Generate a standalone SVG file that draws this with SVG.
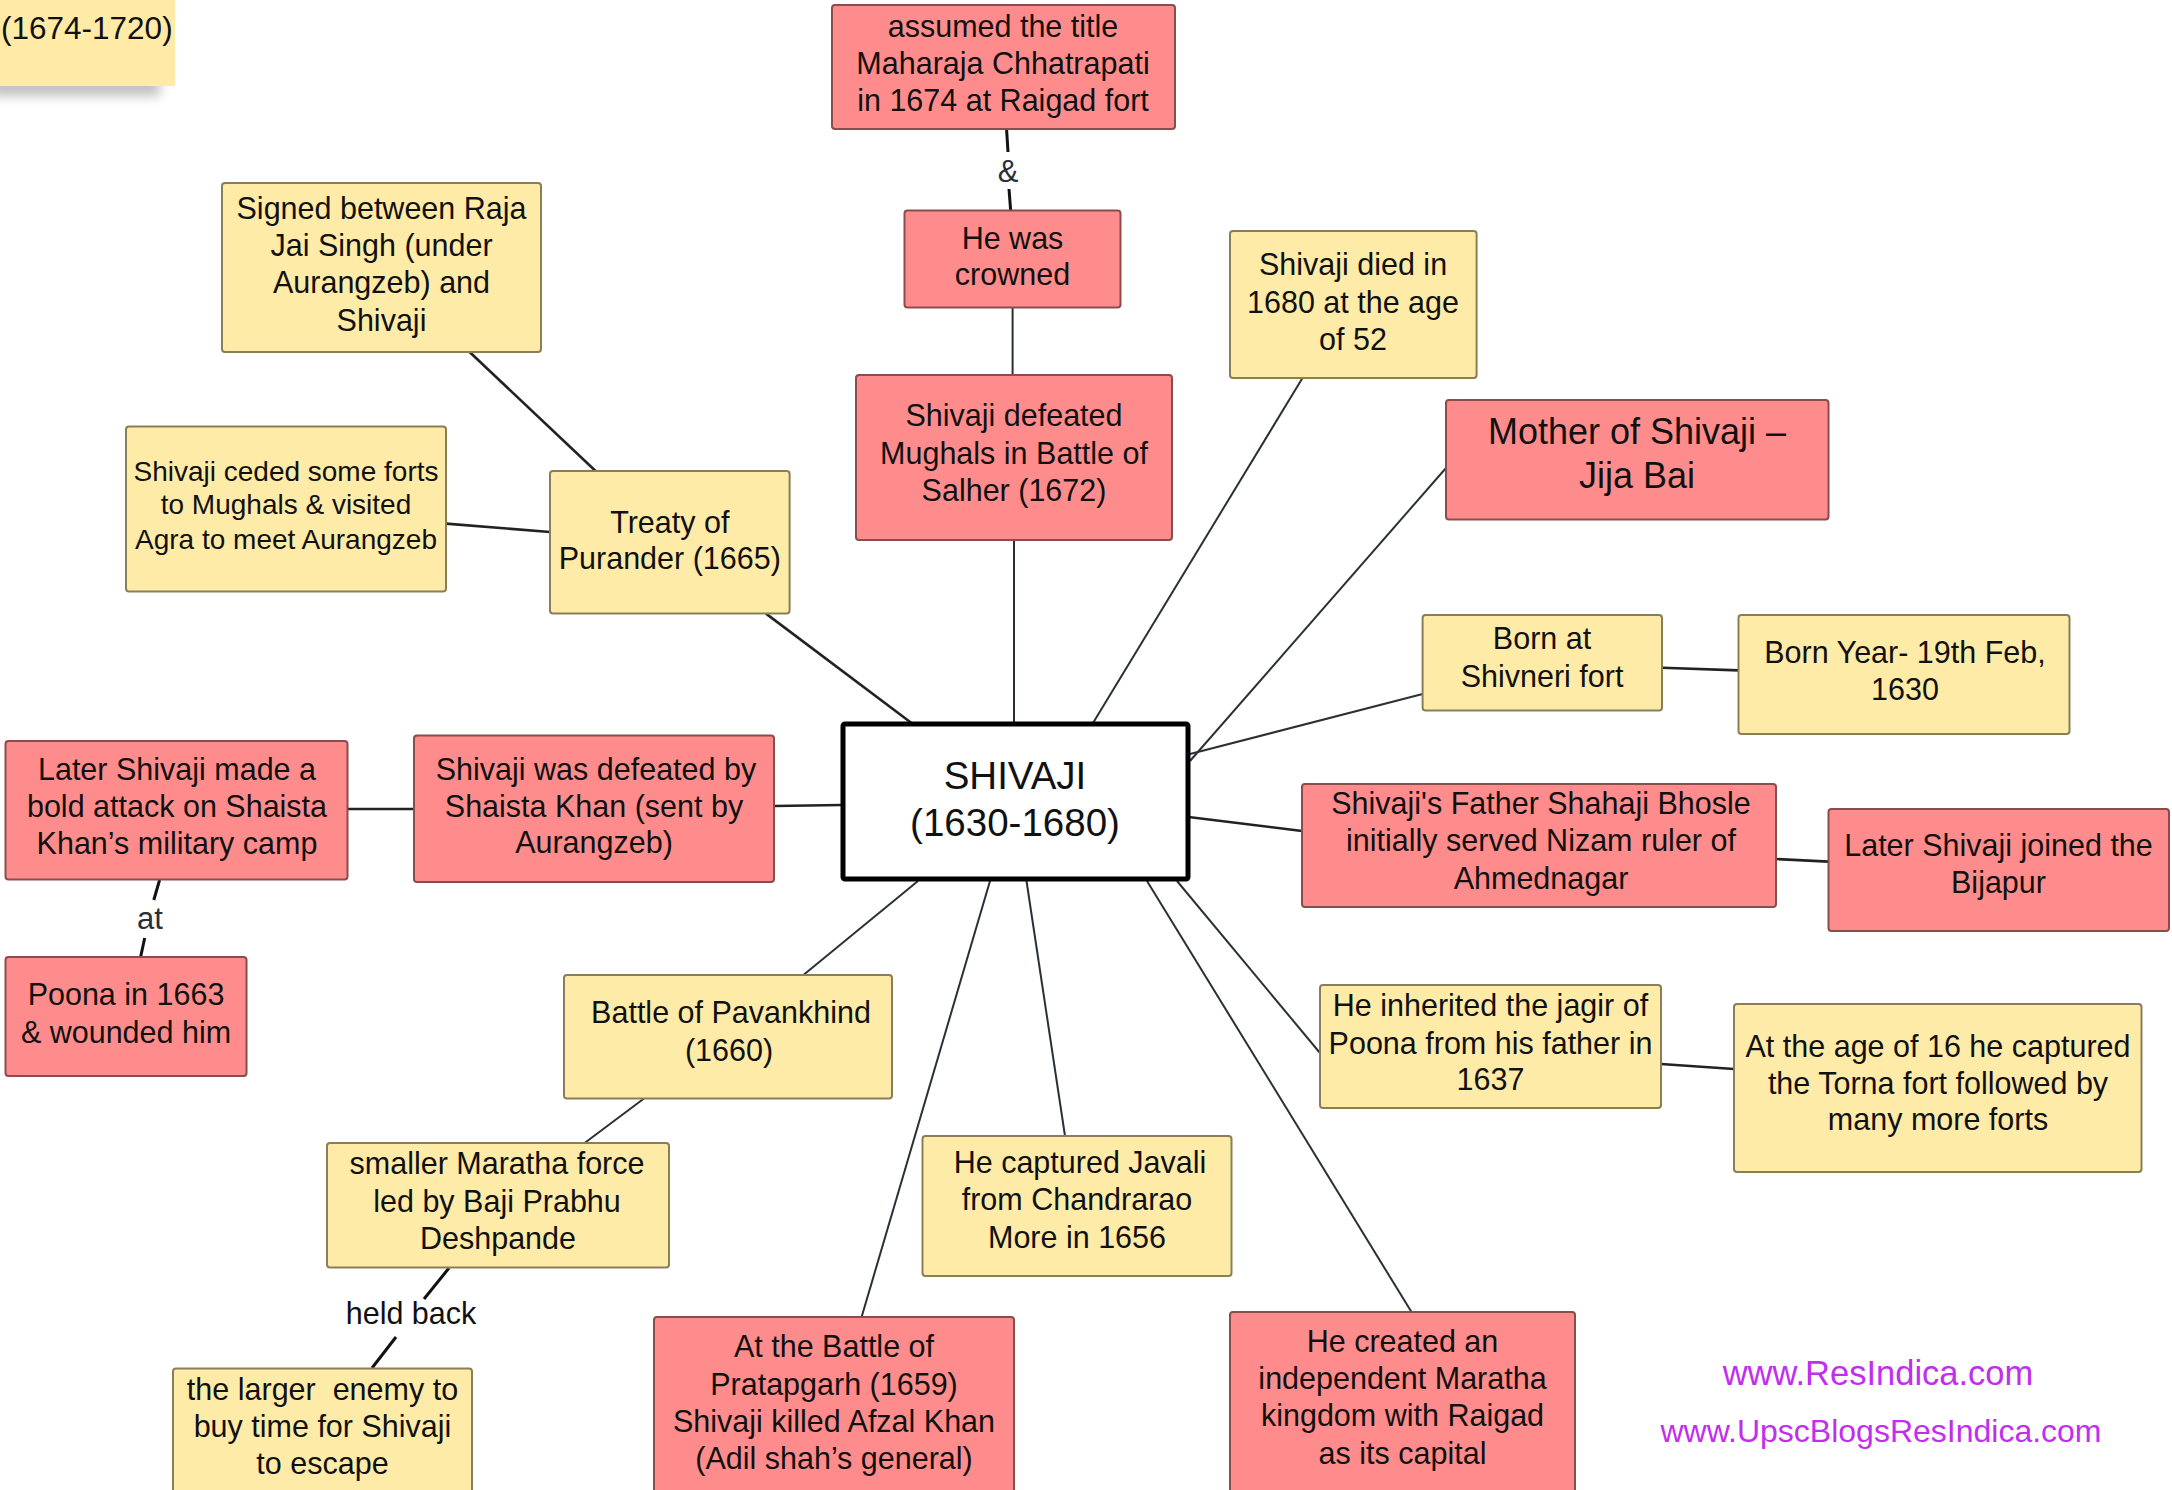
<svg xmlns="http://www.w3.org/2000/svg" width="2172" height="1490" viewBox="0 0 2172 1490">
<defs>
<style>
text{font-family:"Liberation Sans",Arial,sans-serif;fill:#111;text-anchor:middle}
.y{fill:#FFEBA8;stroke:#8A7E58;stroke-width:2}
.r{fill:#FF8C8C;stroke:#8A4C4C;stroke-width:2}
.t{font-size:30.5px}
.s{font-size:28px}
.l{stroke:#2b2f36;stroke-width:2;fill:none}
.lk{stroke:#222;stroke-width:2.6;fill:none}
.lb{stroke:#111;stroke-width:3;fill:none}
.lab{font-size:31px;fill:#2a2f3a}
.wm{fill:#C22EEF}
</style>
<filter id="sh" x="-20%" y="-50%" width="140%" height="200%"><feGaussianBlur stdDeviation="6"/></filter>
</defs>
<rect width="2172" height="1490" fill="#fff"/>

<g id="sticky">
<rect x="-10" y="78" width="170" height="18" fill="#000" opacity="0.25" filter="url(#sh)"/>
<rect x="-5" y="-5" width="180" height="91" fill="#FFEBA6"/>
<text x="1" y="39" style="font-size:31.5px;text-anchor:start">(1674-1720)</text>
</g>

<g id="connectors">
<line class="lb" x1="1006.6" y1="130" x2="1008" y2="152"/>
<line class="lb" x1="1009" y1="189" x2="1010.7" y2="211"/>
<line class="l" x1="1012.6" y1="307.5" x2="1012.6" y2="375.4"/>
<line class="l" x1="1014" y1="540" x2="1014" y2="723"/>
<line class="l" x1="1302.5" y1="378" x2="1093" y2="723"/>
<line class="l" x1="1446" y1="468" x2="1190" y2="761"/>
<line class="l" x1="1422.6" y1="694" x2="1190" y2="754"/>
<line class="lk" x1="1662" y1="667.7" x2="1738.5" y2="670.4"/>
<line class="lk" x1="1188.5" y1="817" x2="1302" y2="831"/>
<line class="lk" x1="1776" y1="859" x2="1828.5" y2="861.6"/>
<line class="l" x1="1177" y1="881" x2="1320" y2="1053"/>
<line class="lk" x1="1661" y1="1064" x2="1734" y2="1069"/>
<line class="l" x1="1026.5" y1="881" x2="1065" y2="1136"/>
<line class="l" x1="1147" y1="881" x2="1411.5" y2="1312"/>
<line class="l" x1="990" y1="881" x2="861.6" y2="1317"/>
<line class="l" x1="918" y1="881" x2="803.4" y2="975"/>
<line class="l" x1="644" y1="1098.5" x2="584.6" y2="1143"/>
<line class="lb" x1="449" y1="1268" x2="424" y2="1299"/>
<line class="lb" x1="396" y1="1337" x2="372" y2="1368"/>
<line class="lk" x1="842" y1="805" x2="774" y2="806"/>
<line class="lk" x1="414" y1="809" x2="347.7" y2="809"/>
<line class="lb" x1="159.6" y1="880" x2="153.8" y2="900"/>
<line class="lb" x1="144.7" y1="938" x2="140.6" y2="957"/>
<line class="lk" x1="766" y1="613.6" x2="911.5" y2="723"/>
<line class="lk" x1="469.6" y1="352" x2="595.6" y2="471"/>
<line class="lk" x1="446" y1="523.6" x2="550" y2="532"/>
<text class="lab" x="1008" y="182">&amp;</text>
<text class="lab" x="411" y="1324" style="fill:#111;font-size:30.5px">held back</text>
<text class="lab" x="150" y="929">at</text>
</g>

<g id="n-title">
<rect class="r" x="832" y="5" width="343" height="124" rx="3"/>
<text class="t" x="1003" y="36.5">assumed the title</text>
<text class="t" x="1003" y="74">Maharaja Chhatrapati</text>
<text class="t" x="1003" y="111">in 1674 at Raigad fort</text>
</g>

<g id="n-crowned">
<rect class="r" x="904.5" y="210.5" width="216" height="97" rx="3"/>
<text class="t" x="1012.5" y="248.5">He was</text>
<text class="t" x="1012.5" y="285">crowned</text>
</g>

<g id="n-salher">
<rect class="r" x="856" y="375" width="316" height="165" rx="3"/>
<text class="t" x="1014" y="426">Shivaji defeated</text>
<text class="t" x="1014" y="463.5">Mughals in Battle of</text>
<text class="t" x="1014" y="500.5">Salher (1672)</text>
</g>

<g id="n-shivaji">
<rect x="843" y="724" width="345" height="155" fill="#fff" stroke="#000" stroke-width="5" rx="2"/>
<text x="1015" y="789" style="font-size:38.5px">SHIVAJI</text>
<text x="1015" y="836" style="font-size:38.5px">(1630-1680)</text>
</g>

<g id="n-died">
<rect class="y" x="1230" y="231" width="246.6" height="147" rx="3"/>
<text class="t" x="1353" y="275">Shivaji died in</text>
<text class="t" x="1353" y="312.5">1680 at the age</text>
<text class="t" x="1353" y="349.5">of 52</text>
</g>

<g id="n-mother">
<rect class="r" x="1446" y="400" width="382.5" height="119.5" rx="3"/>
<text x="1637" y="443.6" style="font-size:36px">Mother of Shivaji –</text>
<text x="1637" y="487.6" style="font-size:36px">Jija Bai</text>
</g>

<g id="n-born">
<rect class="y" x="1422.6" y="615" width="239.4" height="95.6" rx="3"/>
<text class="t" x="1542" y="649">Born at</text>
<text class="t" x="1542" y="686.5">Shivneri fort</text>
</g>

<g id="n-bornyear">
<rect class="y" x="1738.5" y="615" width="331" height="119" rx="3"/>
<text class="t" x="1905" y="662.5">Born Year- 19th Feb,</text>
<text class="t" x="1905" y="700">1630</text>
</g>

<g id="n-father">
<rect class="r" x="1302" y="784" width="474" height="123" rx="3"/>
<text class="t" x="1541" y="813.5">Shivaji's Father Shahaji Bhosle</text>
<text class="t" x="1541" y="851">initially served Nizam ruler of</text>
<text class="t" x="1541" y="888.5">Ahmednagar</text>
</g>

<g id="n-bijapur">
<rect class="r" x="1828.5" y="809" width="340.5" height="122" rx="3"/>
<text class="t" x="1998.5" y="855.5">Later Shivaji joined the</text>
<text class="t" x="1998.5" y="892.5">Bijapur</text>
</g>

<g id="n-jagir">
<rect class="y" x="1320" y="985" width="341" height="123" rx="3"/>
<text class="t" x="1490.5" y="1016">He inherited the jagir of</text>
<text class="t" x="1490.5" y="1053.5">Poona from his father in</text>
<text class="t" x="1490.5" y="1090">1637</text>
</g>

<g id="n-torna">
<rect class="y" x="1734" y="1004" width="407.5" height="168" rx="3"/>
<text class="t" x="1938" y="1056.5">At the age of 16 he captured</text>
<text class="t" x="1938" y="1093.5">the Torna fort followed by</text>
<text class="t" x="1938" y="1130">many more forts</text>
</g>

<g id="n-javali">
<rect class="y" x="922.5" y="1136" width="309" height="140" rx="3"/>
<text class="t" x="1080" y="1172.5">He captured Javali</text>
<text class="t" x="1077" y="1210">from Chandrarao</text>
<text class="t" x="1077" y="1247.5">More in 1656</text>
</g>

<g id="n-capital">
<rect class="r" x="1230" y="1312" width="345" height="190" rx="3"/>
<text class="t" x="1402.5" y="1351.5">He created an</text>
<text class="t" x="1402.5" y="1388.5">independent Maratha</text>
<text class="t" x="1402.5" y="1426">kingdom with Raigad</text>
<text class="t" x="1402.5" y="1463.5">as its capital</text>
</g>

<g id="n-pratapgarh">
<rect class="r" x="654" y="1317" width="360" height="185" rx="3"/>
<text class="t" x="834" y="1357">At the Battle of</text>
<text class="t" x="834" y="1394.5">Pratapgarh (1659)</text>
<text class="t" x="834" y="1431.5">Shivaji killed Afzal Khan</text>
<text class="t" x="834" y="1469">(Adil shah’s general)</text>
</g>

<g id="n-pavankhind">
<rect class="y" x="564" y="975" width="328" height="123.5" rx="3"/>
<text class="t" x="731" y="1023">Battle of Pavankhind</text>
<text class="t" x="729" y="1060.5">(1660)</text>
</g>

<g id="n-baji">
<rect class="y" x="327" y="1143" width="342" height="124.5" rx="3"/>
<text class="t" x="497" y="1174">smaller Maratha force</text>
<text class="t" x="497" y="1211.5">led by Baji Prabhu</text>
<text class="t" x="498" y="1248.5">Deshpande</text>
</g>

<g id="n-enemy">
<rect class="y" x="173" y="1368.6" width="299" height="135" rx="3"/>
<text class="t" x="322.5" y="1399.5" style="white-space:pre">the larger  enemy to</text>
<text class="t" x="322.5" y="1437">buy time for Shivaji</text>
<text class="t" x="322.5" y="1473.5">to escape</text>
</g>

<g id="n-shaista">
<rect class="r" x="414" y="735.5" width="360" height="146.5" rx="3"/>
<text class="t" x="596" y="779.5">Shivaji was defeated by</text>
<text class="t" x="594" y="816.5">Shaista Khan (sent by</text>
<text class="t" x="594" y="852.5">Aurangzeb)</text>
</g>

<g id="n-attack">
<rect class="r" x="5.5" y="741" width="342" height="138.6" rx="3"/>
<text class="t" x="177" y="779.5">Later Shivaji made a</text>
<text class="t" x="177" y="816.5">bold attack on Shaista</text>
<text class="t" x="177" y="854">Khan’s military camp</text>
</g>

<g id="n-poona">
<rect class="r" x="5.5" y="957" width="241" height="119" rx="3"/>
<text class="t" x="126" y="1005">Poona in 1663</text>
<text class="t" x="126" y="1042.5">&amp; wounded him</text>
</g>

<g id="n-treaty">
<rect class="y" x="550" y="471" width="239.6" height="142.6" rx="3"/>
<text class="t" x="669.8" y="532.5">Treaty of</text>
<text class="t" x="669.8" y="568.5">Purander (1665)</text>
</g>

<g id="n-signed">
<rect class="y" x="222" y="183" width="319" height="169" rx="3"/>
<text class="t" x="381.5" y="218.5">Signed between Raja</text>
<text class="t" x="381.5" y="255.5">Jai Singh (under</text>
<text class="t" x="381.5" y="293">Aurangzeb) and</text>
<text class="t" x="381.5" y="330.5">Shivaji</text>
</g>

<g id="n-ceded">
<rect class="y" x="126" y="426.6" width="320" height="165" rx="3"/>
<text class="s" x="286" y="481">Shivaji ceded some forts</text>
<text class="s" x="286" y="514">to Mughals &amp; visited</text>
<text class="s" x="286" y="549">Agra to meet Aurangzeb</text>
</g>

<g id="watermark">
<text class="wm" x="1878" y="1385" style="font-size:34.5px">www.ResIndica.com</text>
<text class="wm" x="1881" y="1442" style="font-size:32px">www.UpscBlogsResIndica.com</text>
</g>
</svg>
